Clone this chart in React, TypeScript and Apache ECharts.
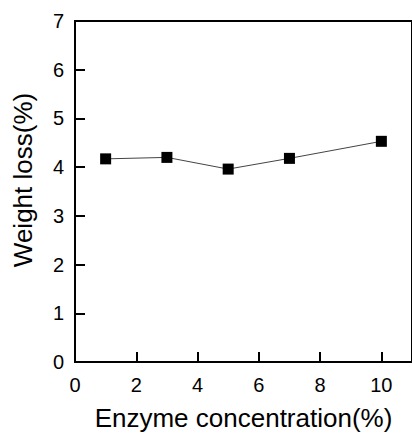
import React, { useEffect, useRef } from "react";
import * as echarts from "echarts";

const enzymeConcentration = [1, 3, 5, 7, 10];
const weightLoss = [4.17, 4.2, 3.96, 4.18, 4.53];
const xTicks = [0, 2, 4, 6, 8, 10];
const yTicks = [0, 1, 2, 3, 4, 5, 6, 7];
const xTitle = "Enzyme concentration(%)";
const yTitle = "Weight loss(%)";

const FONT = "'Liberation Sans', Arial, sans-serif";

export default function App() {
  const ref = useRef<HTMLDivElement>(null);
  useEffect(() => {
    document.body.style.margin = "0";
    const chart = echarts.init(ref.current!, null, { renderer: "svg" });
    chart.setOption({
      animation: false,
      backgroundColor: "#fff",
      grid: {
        left: 75,
        right: -3,
        top: 21,
        bottom: 74,
        show: true,
        borderColor: "#000",
        borderWidth: 2,
      },
      graphic: [
        {
          type: "text",
          x: 23,
          y: 180,
          rotation: Math.PI / 2,
          style: {
            text: yTitle,
            fontFamily: FONT,
            fontSize: 26,
            fill: "#000",
            align: "center",
            verticalAlign: "middle",
          },
        },
      ],
      xAxis: {
        type: "value",
        min: 0,
        max: 11,
        interval: 2,
        name: xTitle,
        nameLocation: "middle",
        nameGap: 43,
        nameTextStyle: { fontFamily: FONT, fontSize: 26, color: "#000" },
        axisLine: { show: true, lineStyle: { color: "#000", width: 2 } },
        axisTick: { show: true, inside: true, length: 10, lineStyle: { color: "#000", width: 2 } },
        axisLabel: {
          fontFamily: FONT,
          fontSize: 20,
          color: "#000",
          margin: 13,
          showMaxLabel: false,
          formatter: (v: number) => (xTicks.includes(v) ? String(v) : ""),
        },
        splitLine: { show: false },
      },
      yAxis: {
        type: "value",
        min: 0,
        max: 7,
        interval: 1,
        axisLine: { show: true, lineStyle: { color: "#000", width: 2 } },
        axisTick: { show: true, inside: true, length: 10, lineStyle: { color: "#000", width: 2 } },
        axisLabel: {
          fontFamily: FONT,
          fontSize: 20,
          color: "#000",
          margin: 11,
          formatter: (v: number) => (yTicks.includes(v) ? String(v) : ""),
        },
        splitLine: { show: false },
      },
      series: [
        {
          type: "line",
          data: enzymeConcentration.map((x, i) => [x, weightLoss[i]]),
          symbol: "rect",
          symbolSize: 11,
          itemStyle: { color: "#000" },
          lineStyle: { color: "#444", width: 1 },
        },
      ],
    });
    return () => chart.dispose();
  }, []);
  return <div ref={ref} style={{ width: 412, height: 436 }} />;
}
